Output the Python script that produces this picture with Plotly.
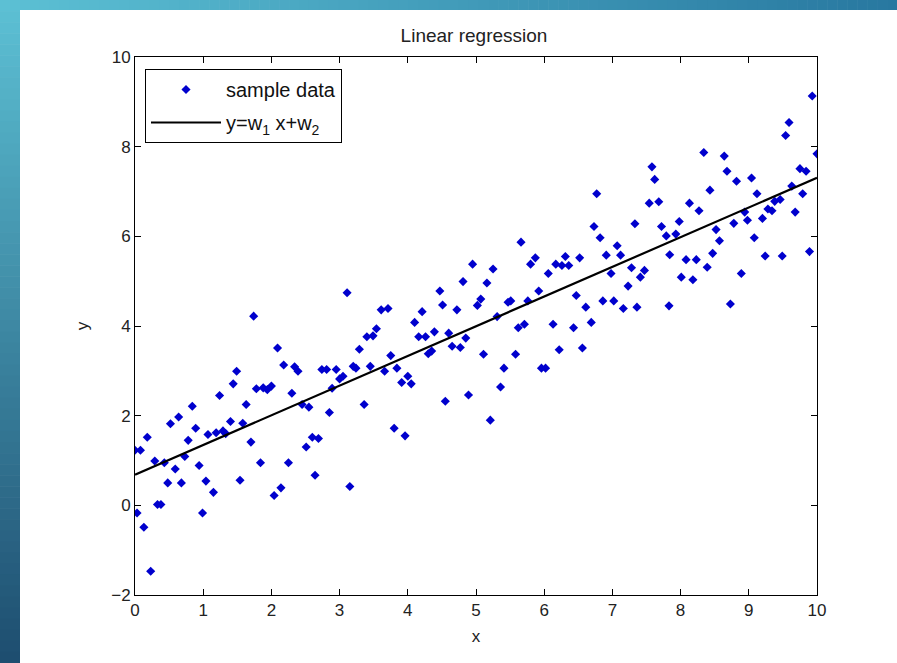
import plotly.graph_objects as go

# ---- data ----
sample_x = [
    1.74, 2.09, 2.18, 2.34, 2.39, 1.49, 1.44, 1.78, 1.88, 1.94, 2.00, 2.30, 1.24, 1.63, 0.84, 0.64, 0.52, 0.89, 1.40, 1.58,
    0.18, 0.78, 1.07, 1.19, 1.29, 1.33, 1.70, 2.51, 0.00, 0.08, 0.73, 0.29, 0.43, 0.94, 0.59, 1.84, 2.25, 1.54, 0.48, 0.68,
    1.04, 1.15, 2.14, 2.04, 0.33, 0.38, 0.03, 0.99, 0.13, 0.23,
    3.11, 4.81, 4.47, 4.51, 4.72, 3.61, 3.71, 4.21, 4.10, 3.54, 3.40, 3.49, 4.39, 4.60, 4.16, 4.26, 4.85, 3.29, 4.65, 4.77,
    3.75, 4.30, 4.35, 2.74, 2.81, 2.95, 3.20, 3.24, 3.45, 3.66, 3.84, 3.00, 3.05, 4.00, 3.91, 4.05, 2.89, 2.45, 2.55, 3.36,
    4.89, 2.85, 4.55, 3.80, 3.96, 2.60, 2.69, 2.64, 3.15,
    6.73, 7.33, 6.82, 7.07, 5.66, 6.91, 7.12, 4.95, 5.25, 5.80, 5.87, 6.17, 6.26, 6.36, 6.31, 6.52, 7.28, 6.06, 6.98, 5.16,
    7.23, 5.92, 6.47, 5.07, 5.02, 5.47, 5.51, 5.76, 6.61, 6.86, 7.02, 7.16, 7.36, 5.31, 5.62, 5.71, 6.13, 6.43, 6.69, 5.11,
    5.58, 6.22, 6.56, 5.41, 5.96, 6.02, 5.36, 5.21,
    9.93, 9.59, 9.54, 10.0, 8.34, 8.64, 7.58, 7.62, 8.68, 8.82, 9.04, 9.75, 9.84, 9.63, 8.43, 9.12, 9.79, 7.54, 7.68, 8.13,
    8.27, 9.28, 9.34, 9.38, 9.46, 9.68, 8.94, 8.98, 7.72, 7.98, 8.78, 9.20, 8.52, 7.79, 7.93, 8.57, 9.08, 7.84, 8.47, 9.24,
    9.49, 9.89, 8.08, 8.23, 7.47, 7.41, 8.39, 8.01, 8.18, 8.89, 7.83, 8.73, 6.77,
]
sample_y = [
    4.22, 3.51, 3.13, 3.09, 2.99, 2.99, 2.71, 2.60, 2.62, 2.58, 2.66, 2.50, 2.45, 2.25, 2.21, 1.97, 1.82, 1.72, 1.87, 1.83,
    1.52, 1.45, 1.58, 1.62, 1.66, 1.60, 1.41, 1.30, 1.23, 1.23, 1.09, 0.99, 0.95, 0.89, 0.81, 0.95, 0.95, 0.56, 0.50, 0.50,
    0.54, 0.29, 0.39, 0.22, 0.02, 0.02, -0.17, -0.17, -0.49, -1.47,
    4.74, 4.99, 4.78, 4.47, 4.36, 4.36, 4.39, 4.32, 4.08, 3.94, 3.76, 3.78, 3.87, 3.84, 3.76, 3.76, 3.73, 3.48, 3.55, 3.52,
    3.34, 3.38, 3.44, 3.03, 3.03, 3.03, 3.10, 3.06, 3.10, 2.99, 3.06, 2.82, 2.88, 2.88, 2.74, 2.71, 2.61, 2.25, 2.19, 2.25,
    2.46, 2.07, 2.32, 1.72, 1.55, 1.52, 1.49, 0.67, 0.42,
    6.22, 6.28, 5.97, 5.79, 5.87, 5.58, 5.58, 5.38, 5.27, 5.38, 5.52, 5.38, 5.35, 5.35, 5.55, 5.52, 5.30, 5.17, 5.17, 4.96,
    4.89, 4.78, 4.68, 4.60, 4.46, 4.53, 4.56, 4.56, 4.42, 4.56, 4.56, 4.39, 4.42, 4.21, 3.96, 4.04, 4.04, 3.96, 4.08, 3.37,
    3.37, 3.47, 3.51, 3.06, 3.06, 3.06, 2.64, 1.90,
    9.13, 8.54, 8.25, 7.84, 7.87, 7.79, 7.55, 7.27, 7.45, 7.23, 7.30, 7.51, 7.45, 7.12, 7.03, 6.95, 6.95, 6.74, 6.77, 6.74,
    6.57, 6.61, 6.57, 6.78, 6.82, 6.54, 6.54, 6.36, 6.22, 6.33, 6.29, 6.40, 6.15, 6.01, 6.05, 5.90, 5.97, 5.59, 5.62, 5.56,
    5.56, 5.66, 5.48, 5.48, 5.24, 5.09, 5.31, 5.09, 5.03, 5.17, 4.45, 4.49, 6.95,
]
w1 = 0.662   # fitted slope
w2 = 0.685   # fitted intercept
line_x = [0, 10]
line_y = [w1 * v + w2 for v in line_x]

x_ticks = list(range(0, 11))
y_ticks = [-2, 0, 2, 4, 6, 8, 10]

# ---- figure ----
W, H = 897, 663
L, R, T, B = 135, 817, 57, 595
pw, ph = R - L, B - T

def px(x):
    return (x - L) / pw

def py(y):
    return (B - y) / ph

FONT = "Liberation Sans, Arial, sans-serif"
TXT = "#222"

fig = go.Figure()
fig.add_trace(go.Scatter(
    x=sample_x, y=sample_y, mode="markers", name="sample data",
    marker=dict(symbol="diamond", size=7, color="rgb(0,0,205)", line=dict(width=0)),
    legendgroup="a",
))
fig.add_trace(go.Scatter(
    x=line_x, y=line_y, mode="lines", name="y=w<sub>1</sub> x+w<sub>2</sub>",
    line=dict(color="black", width=2.2), legendgroup="b",
))

shapes = []
# decorative gradient strips of the slide (left and top)
def lerp(c1, c2, t):
    return "rgb(%d,%d,%d)" % tuple(round(a + (b - a) * t) for a, b in zip(c1, c2))

N = 60
top_c, bot_c = (92, 192, 212), (30, 78, 112)
for i in range(N):
    y0 = H * i / N
    y1 = H * (i + 1) / N + 0.6
    shapes.append(dict(type="rect", xref="paper", yref="paper", layer="below",
                       x0=px(0), x1=px(20), y0=py(y1), y1=py(y0),
                       fillcolor=lerp(top_c, bot_c, i / (N - 1)), line=dict(width=0)))
M = 90
left_c, right_c = (92, 192, 212), (40, 120, 160)
for i in range(M):
    x0 = W * i / M
    x1 = W * (i + 1) / M + 0.6
    shapes.append(dict(type="rect", xref="paper", yref="paper", layer="below",
                       x0=px(max(x0, 0)), x1=px(x1), y0=py(10), y1=py(0),
                       fillcolor=lerp(left_c, right_c, i / (M - 1)), line=dict(width=0)))

axis_common = dict(
    showgrid=False, zeroline=False, showline=True, linecolor="black", linewidth=1,
    mirror="ticks", ticks="inside", ticklen=6, tickcolor="black", tickwidth=1,
    tickfont=dict(family=FONT, size=17, color=TXT),
)

fig.update_layout(
    width=W, height=H, autosize=False,
    margin=dict(l=L, r=W - R, t=T, b=H - B),
    paper_bgcolor="white", plot_bgcolor="white",
    title=dict(text="Linear regression", x=px(474), xref="paper", xanchor="center",
               y=1 - 35 / H, yanchor="middle",
               font=dict(family=FONT, size=19, color=TXT)),
    xaxis=dict(range=[0, 10], tickvals=x_ticks, title=dict(text="x", standoff=10,
               font=dict(family=FONT, size=17, color=TXT)), **axis_common),
    yaxis=dict(range=[-2, 10], tickvals=y_ticks, title=dict(text="y", standoff=18,
               font=dict(family=FONT, size=17, color=TXT)), **axis_common),
    legend=dict(x=px(145), y=py(69), xanchor="left", yanchor="top",
                bgcolor="white", bordercolor="black", borderwidth=1,
                font=dict(family=FONT, size=20, color="#111"),
                traceorder="grouped", tracegroupgap=4, itemwidth=70),
    shapes=shapes,
    showlegend=True,
)

fig.write_html(
    "out.html",
    config={"displayModeBar": False},
    post_script="document.body.style.margin='0';document.body.style.overflow='hidden';",
)
